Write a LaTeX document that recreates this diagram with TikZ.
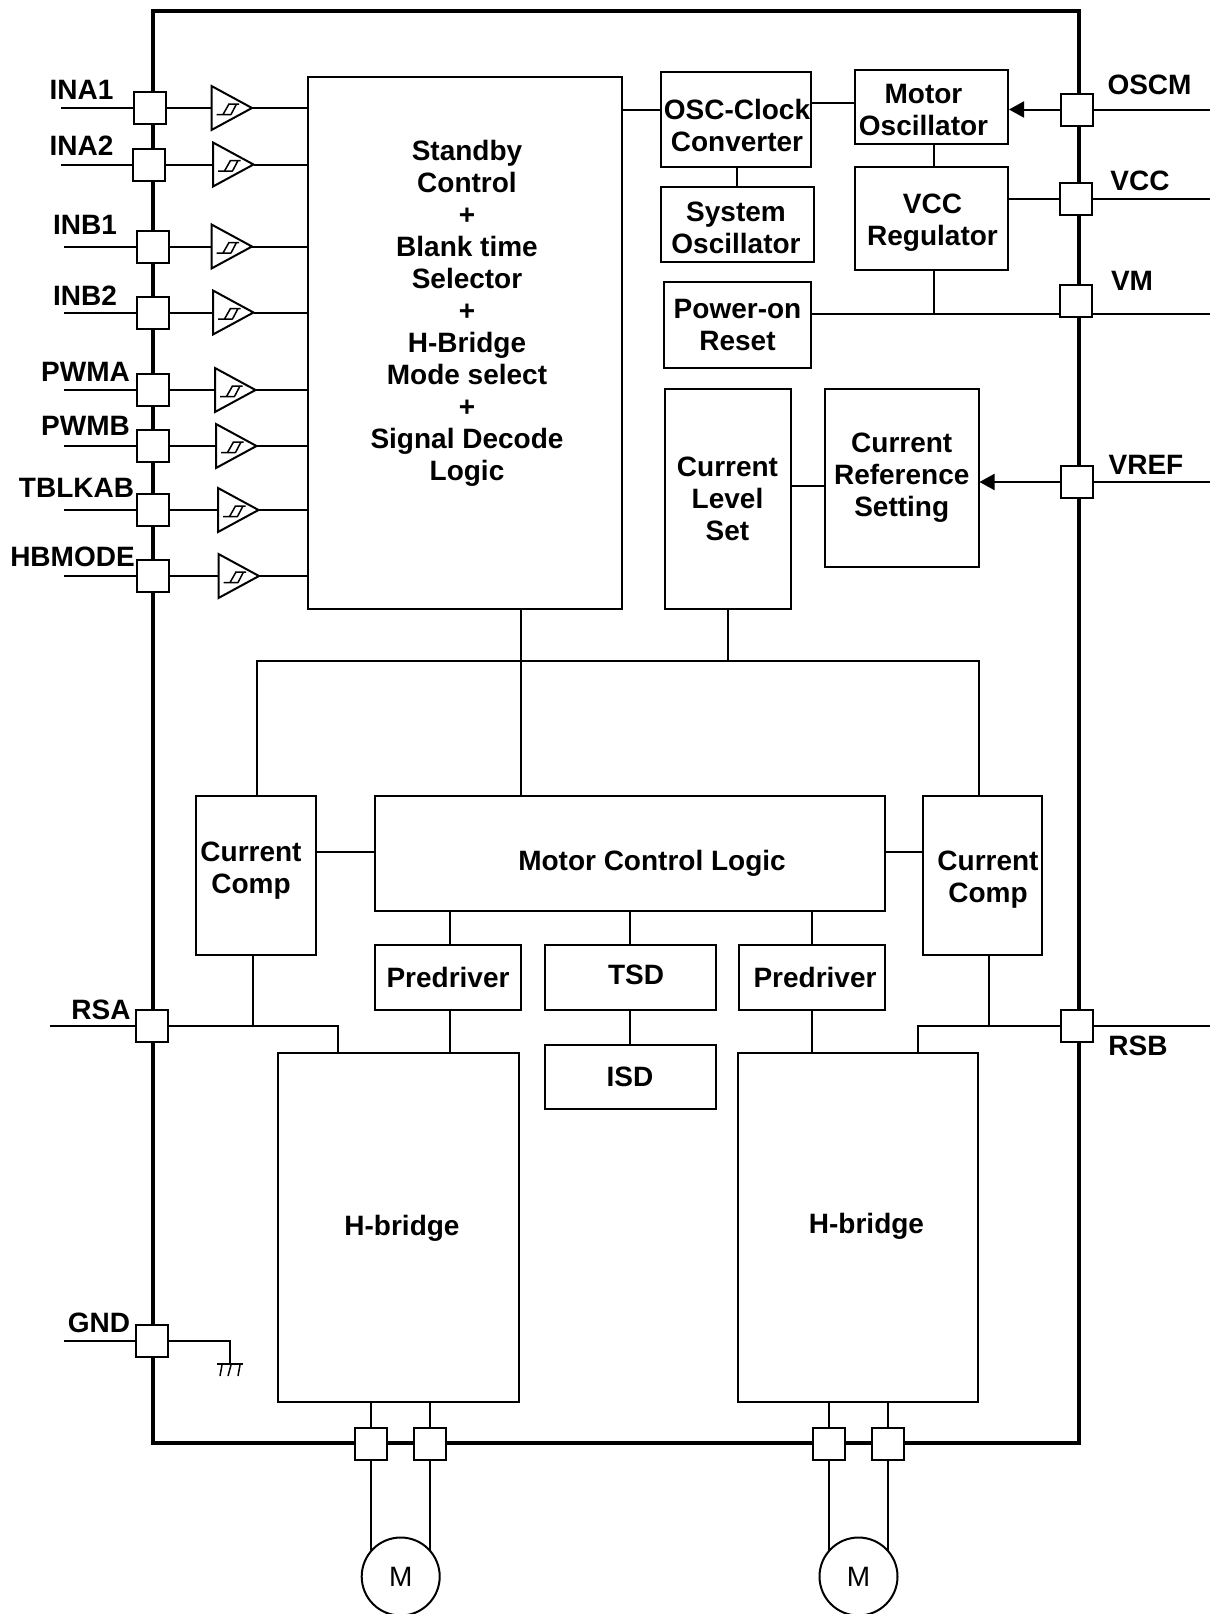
\documentclass[tikz,border=0pt]{standalone}
\usepackage{fontspec}
\setmainfont{Liberation Sans}
\usetikzlibrary{shapes.geometric, arrows.meta, positioning, calc}

\begin{document}
\begin{tikzpicture}[
    x=1pt, y=-1pt,
    wire/.style={line width=2pt, color=black},
    feed/.style={wire, -{Triangle[length=15pt,width=16pt]}},
    block/.style={rectangle, draw, fill=white, line width=2pt, inner sep=0pt, align=center, font=\bfseries\fontsize{28}{32}\selectfont},
    lbl/.style={inner sep=0pt, align=center, font=\bfseries\fontsize{28}{32}\selectfont},
    pad/.style={rectangle, draw, fill=white, line width=2pt, minimum width=32pt, minimum height=32pt, inner sep=0pt},
    motor/.style={circle, draw, fill=white, line width=2pt, minimum size=78pt, inner sep=0pt, font=\fontsize{28}{32}\selectfont},
    buffer/.style={isosceles triangle, isosceles triangle stretches, shape border rotate=0, anchor=lower side, draw, line width=2pt, inner sep=0pt, outer sep=0pt, minimum width=44pt, minimum height=40.5pt},
    hyst/.pic={\draw[line width=1.5pt] (5,6.5) -- (19.5,6.5) (11.5,6.5) -- (17.5,-4) (19.5,6.5) -- (25,-4) (16.5,-4) -- (27.5,-4);}
]

\useasboundingbox (0,0) rectangle (1210,1614);

% Chip outline
\draw[line width=4pt] (153,11) rectangle (1078.5,1443);

% Blocks
\node[block, minimum width=313.5pt, minimum height=532pt] (main) at (464.75,343) {};
\node[block, minimum width=150.5pt, minimum height=95pt] (osc) at (735.75,119.5) {};
\node[block, minimum width=153pt, minimum height=74pt] (mosc) at (931.5,107) {};
\node[block, minimum width=153.5pt, minimum height=75pt] (sosc) at (737.25,224.5) {};
\node[block, minimum width=153pt, minimum height=103pt] (vreg) at (931.5,218.5) {};
\node[block, minimum width=147pt, minimum height=86pt] (por) at (737.5,325) {Power-on\\Reset};
\node[block, minimum width=126pt, minimum height=220pt] (cls) at (727.5,499) {Current\\Level\\Set};
\node[block, minimum width=153.5pt, minimum height=178pt] (crs) at (901.75,478) {Current\\Reference\\Setting};
\node[block, minimum width=120.5pt, minimum height=159pt] (compl) at (255.75,875.5) {};
\node[block, minimum width=510.5pt, minimum height=115pt] (mcl) at (629.75,853.5) {};
\node[block, minimum width=119pt, minimum height=159pt] (compr) at (982.5,875.5) {};
\node[block, minimum width=146.5pt, minimum height=64.5pt] (predl) at (448,977.25) {Predriver};
\node[block, minimum width=171pt, minimum height=64.5pt] (tsd) at (630,977.25) {};
\node[block, minimum width=171pt, minimum height=64.5pt] (isd) at (630,1076.75) {ISD};
\node[block, minimum width=146pt, minimum height=64.5pt] (predr) at (811.5,977.25) {};
\node[block, minimum width=241pt, minimum height=348.5pt] (hbl) at (398.5,1227.25) {};
\node[block, minimum width=240.5pt, minimum height=348.5pt] (hbr) at (858,1227.25) {};

% Block texts set off centre
\node[lbl] (maintxt) at (467,313) {Standby\\Control\\+\\Blank time\\Selector\\+\\H-Bridge\\Mode select\\+\\Signal Decode\\Logic};
\node[lbl] (osctxt) at (737,125.5) {OSC-Clock\\Converter};
\node[lbl] (mosctxt) at (923.5,110) {Motor\\Oscillator};
\node[lbl] (sosctxt) at (736,227.5) {System\\Oscillator};
\node[lbl] (vregtxt) at (932.5,222.5) {VCC\\Regulator};
\node[lbl] (compltxt) at (251,870.5) {Current\\Comp};
\node[lbl] (comprtxt) at (988,880) {Current\\Comp};
\node[lbl] (mcltxt) at (652,863) {Motor Control Logic};
\node[lbl] (tsdtxt) at (636,974.5) {TSD};
\node[lbl] (predrtxt) at (815,977) {Predriver};
\node[lbl] (hbltxt) at (402,1228.5) {H-bridge};
\node[lbl] (hbrtxt) at (866.5,1226.5) {H-bridge};

% Pads, left side
\node[pad] (ina1) at (149.5,108) {};
\node[pad] (ina2) at (149,164.5) {};
\node[pad] (inb1) at (153,246.5) {};
\node[pad] (inb2) at (153,312.5) {};
\node[pad] (pwma) at (153,390) {};
\node[pad] (pwmb) at (153,446) {};
\node[pad] (tblkab) at (153,510) {};
\node[pad] (hbmode) at (153,576) {};
\node[pad] (rsa) at (152,1026) {};
\node[pad] (gnd) at (152,1341) {};

% Pads, right side
\node[pad] (oscm) at (1077,109.5) {};
\node[pad] (vcc) at (1076,199) {};
\node[pad] (vm) at (1076,301) {};
\node[pad] (vref) at (1077,482) {};
\node[pad] (rsb) at (1077,1026) {};

% Pads, bottom side
\node[pad] (ao1) at (370.5,1443.5) {};
\node[pad] (ao2) at (429.5,1443.5) {};
\node[pad] (bo1) at (828.5,1443.5) {};
\node[pad] (bo2) at (887.5,1443.5) {};

% Motors
\node[motor] (ml) at (400.7,1576.5) {M};
\node[motor] (mr) at (858.5,1576.5) {M};

% Input buffers
\node[buffer] (bina1) at (211.5,108) {};
\node[buffer] (bina2) at (213,164.5) {};
\node[buffer] (binb1) at (211.5,246.5) {};
\node[buffer] (binb2) at (213,312.5) {};
\node[buffer] (bpwma) at (215,390) {};
\node[buffer] (bpwmb) at (216,446) {};
\node[buffer] (btblkab) at (218,510) {};
\node[buffer] (bhbmode) at (218.5,576) {};
\pic at (bina1.lower side) {hyst};
\pic at (bina2.lower side) {hyst};
\pic at (binb1.lower side) {hyst};
\pic at (binb2.lower side) {hyst};
\pic at (bpwma.lower side) {hyst};
\pic at (bpwmb.lower side) {hyst};
\pic at (btblkab.lower side) {hyst};
\pic at (bhbmode.lower side) {hyst};

% Free ends
\coordinate (ina1end) at (61,108);
\coordinate (ina2end) at (61,164.5);
\coordinate (inb1end) at (64,246.5);
\coordinate (inb2end) at (64,312.5);
\coordinate (pwmaend) at (64,390);
\coordinate (pwmbend) at (64,446);
\coordinate (tblkabend) at (64,510);
\coordinate (hbmodeend) at (64,576);
\coordinate (rsaend) at (49.5,1026);
\coordinate (gndend) at (64,1341);
\coordinate (oscmend) at (1210,109.5);
\coordinate (vccend) at (1210,199);
\coordinate (vmend) at (1210,314);
\coordinate (vrefend) at (1210,482);
\coordinate (rsbend) at (1210,1026);
\coordinate (bus) at (727.5,660.5);
\coordinate (gndbar) at (230,1364);

% Input wires
\draw[wire] (ina1end) -- (ina1) (ina1) -- (bina1.lower side) (bina1.apex) -- (main.west |- bina1.apex);
\draw[wire] (ina2end) -- (ina2) (ina2) -- (bina2.lower side) (bina2.apex) -- (main.west |- bina2.apex);
\draw[wire] (inb1end) -- (inb1) (inb1) -- (binb1.lower side) (binb1.apex) -- (main.west |- binb1.apex);
\draw[wire] (inb2end) -- (inb2) (inb2) -- (binb2.lower side) (binb2.apex) -- (main.west |- binb2.apex);
\draw[wire] (pwmaend) -- (pwma) (pwma) -- (bpwma.lower side) (bpwma.apex) -- (main.west |- bpwma.apex);
\draw[wire] (pwmbend) -- (pwmb) (pwmb) -- (bpwmb.lower side) (bpwmb.apex) -- (main.west |- bpwmb.apex);
\draw[wire] (tblkabend) -- (tblkab) (tblkab) -- (btblkab.lower side) (btblkab.apex) -- (main.west |- btblkab.apex);
\draw[wire] (hbmodeend) -- (hbmode) (hbmode) -- (bhbmode.lower side) (bhbmode.apex) -- (main.west |- bhbmode.apex);

% Upper right wires
\draw[wire] (main.east |- 0,110) -- (osc.west |- 0,110);
\draw[wire] (osc.east |- 0,103) -- (mosc.west |- 0,103);
\draw[wire] (sosc.north -| 737,0) -- (osc.south -| 737,0);
\draw[wire] (vreg.north -| 933.5,0) -- (mosc.south -| 933.5,0);
\draw[feed] (oscm) -- (mosc.east |- oscm);
\draw[wire] (oscm) -- (oscmend);
\draw[wire] (vreg.east |- vcc) -- (vcc);
\draw[wire] (vcc) -- (vccend);
\draw[wire] (por.east |- vmend) -- (vm.west |- vmend);
\draw[wire] (vm.east |- vmend) -- (vmend);
\draw[wire] (vreg.south -| 933.5,0) -- (933.5,314);
\draw[feed] (vref) -- (crs.east |- vref);
\draw[wire] (vref) -- (vrefend);
\draw[wire] (cls.east |- 0,486) -- (crs.west |- 0,486);

% Bus to the control logic
\draw[wire] (cls.south) -- (bus);
\draw[wire] (compl.north -| 257,0) |- (bus) -| (compr.north -| 978.5,0);
\draw[wire] (main.south -| 520.7,0) -- (mcl.north -| 520.7,0);
\draw[wire] (compl.east |- 0,852) -- (mcl.west |- 0,852);
\draw[wire] (mcl.east |- 0,852) -- (compr.west |- 0,852);

% Drivers
\draw[wire] (mcl.south -| 449.7,0) -- (predl.north -| 449.7,0);
\draw[wire] (mcl.south -| tsd.north) -- (tsd.north);
\draw[wire] (mcl.south -| predr.north) -- (predr.north);
\draw[wire] (tsd.south) -- (isd.north);
\draw[wire] (predl.south -| 449.7,0) -- (hbl.north -| 449.7,0);
\draw[wire] (predr.south) -- (hbr.north -| predr.south);

% Sense lines
\draw[wire] (rsaend) -- (rsa);
\draw[wire] (rsa) -| (hbl.north -| 337.5,0);
\draw[wire] (compl.south -| 253,0) -- (253,1026);
\draw[wire] (rsbend) -- (rsb);
\draw[wire] (rsb) -| (hbr.north -| 918,0);
\draw[wire] (compr.south -| 989,0) -- (989,1026);

% Ground
\draw[wire] (gndend) -- (gnd);
\draw[wire] (gnd) -| (gndbar);
\draw[wire] (217,1364) -- (243,1364);
\draw[line width=1.5pt] (222,1365) -- (220,1376) (231,1365) -- (228,1376) (240,1365) -- (238,1376);

% Motor wires
\draw[wire] (hbl.south -| ao1) -- (ao1);
\draw[wire] (hbl.south -| ao2) -- (ao2);
\draw[wire] (hbr.south -| bo1) -- (bo1);
\draw[wire] (hbr.south -| bo2) -- (bo2);
\draw[wire] (ao1) -- (ao1 |- ml.140);
\draw[wire] (ao2) -- (ao2 |- ml.40);
\draw[wire] (bo1) -- (bo1 |- mr.140);
\draw[wire] (bo2) -- (bo2 |- mr.40);

% Pads again, over the wire ends
\node[pad] (ina1top) at (ina1) {};
\node[pad] (ina2top) at (ina2) {};
\node[pad] (inb1top) at (inb1) {};
\node[pad] (inb2top) at (inb2) {};
\node[pad] (pwmatop) at (pwma) {};
\node[pad] (pwmbtop) at (pwmb) {};
\node[pad] (tblkabtop) at (tblkab) {};
\node[pad] (hbmodetop) at (hbmode) {};
\node[pad] (rsatop) at (rsa) {};
\node[pad] (gndtop) at (gnd) {};
\node[pad] (oscmtop) at (oscm) {};
\node[pad] (vcctop) at (vcc) {};
\node[pad] (vreftop) at (vref) {};
\node[pad] (rsbtop) at (rsb) {};
\node[pad] (ao1top) at (ao1) {};
\node[pad] (ao2top) at (ao2) {};
\node[pad] (bo1top) at (bo1) {};
\node[pad] (bo2top) at (bo2) {};

% Pin labels
\node[lbl] (lina1) at (81.5,90) {INA1};
\node[lbl] (lina2) at (81.5,146) {INA2};
\node[lbl] (linb1) at (85,225) {INB1};
\node[lbl] (linb2) at (85,296) {INB2};
\node[lbl] (lpwma) at (85.5,371.5) {PWMA};
\node[lbl] (lpwmb) at (85.5,426) {PWMB};
\node[lbl] (ltblkab) at (76.5,488) {TBLKAB};
\node[lbl] (lhbmode) at (72.5,557) {HBMODE};
\node[lbl] (lrsa) at (101,1010) {RSA};
\node[lbl] (lgnd) at (99,1323) {GND};
\node[lbl] (loscm) at (1149.5,85) {OSCM};
\node[lbl] (lvcc) at (1140,181) {VCC};
\node[lbl] (lvm) at (1132,281) {VM};
\node[lbl] (lvref) at (1146,465) {VREF};
\node[lbl] (lrsb) at (1138,1046) {RSB};

\end{tikzpicture}
\end{document}
